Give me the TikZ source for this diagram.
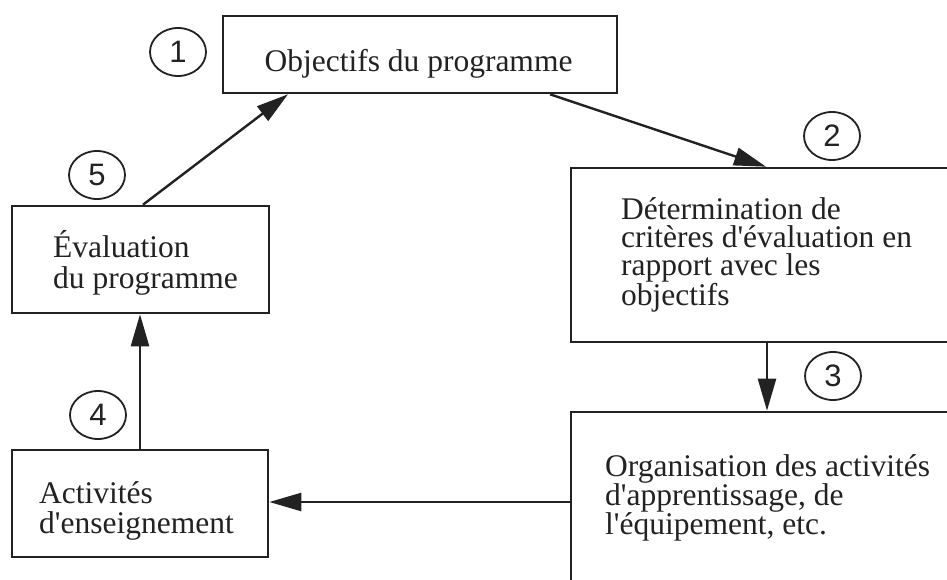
\documentclass[tikz,border=0pt]{standalone}
\usepackage{fontspec}
\setmainfont{Liberation Serif}
\newfontfamily\digitfont{Liberation Sans}
\usetikzlibrary{arrows.meta,shapes.geometric}
\definecolor{ink}{HTML}{222222}
\newcommand\apos{\textquotesingle}
\begin{document}
\begin{tikzpicture}[x=1pt,y=-1pt,
  stepbox/.style={draw=ink, line width=2.6pt, rectangle, inner sep=0pt},
  txt/.style={font=\fontsize{31.5}{29}\selectfont, text=ink, align=left, inner sep=0pt, anchor=base west},
  num/.style={draw=ink, line width=1.8pt, ellipse, minimum width=56pt, minimum height=48pt,
    inner sep=0pt, text=ink, font=\digitfont\fontsize{31}{31}\selectfont},
  flow/.style={draw=ink, line width=2.4pt, -{Triangle[length=32pt,width=18pt]}}]
  \useasboundingbox (0,0) rectangle (947,580);
  \fill[white] (0,0) rectangle (947,580);
  \clip (0,0) rectangle (947,580);

  % boxes
  \node[stepbox, minimum width=394pt, minimum height=77pt]  (obj) at (420,54.5) {};
  \node[stepbox, minimum width=399pt, minimum height=174pt] (det) at (770.5,255) {};
  \node[stepbox, minimum width=399pt, minimum height=198pt] (org) at (770.5,511) {};
  \node[stepbox, minimum width=256pt, minimum height=107pt] (act) at (140,503.5) {};
  \node[stepbox, minimum width=257pt, minimum height=107pt] (eva) at (140.5,259.5) {};

  % box texts (multi-line nodes sit on the baseline of their last line)
  \node[txt, anchor=base] (tobj) at (418.5,72) {Objectifs du programme};
  \node[txt, font=\fontsize{31.5}{28}\selectfont] (tdet) at (621,305) {Détermination de\\critères d\apos évaluation en\\rapport avec les\\objectifs};
  \node[txt] (torg) at (605,534) {Organisation des activités\\d\apos apprentissage, de\\l\apos équipement, etc.};
  \node[txt, font=\fontsize{31.5}{30}\selectfont] (tact) at (39,533) {Activités\\d\apos enseignement};
  \node[txt, font=\fontsize{31.5}{31}\selectfont] (teva) at (53,288) {Évaluation\\du programme};

  % step numbers
  \node[num] (n1) at (178,52)  {1};
  \node[num] (n2) at (832,136) {2};
  \node[num] (n3) at (833,376) {3};
  \node[num] (n4) at (98,415)  {4};
  \node[num] (n5) at (97,175)  {5};

  % cycle arrows
  \draw[flow] ([xshift=130pt]obj.south) -- ([xshift=-4.5pt]det.north);
  \draw[flow] ([xshift=-3.5pt]det.south) -- ([xshift=-3.5pt]org.north);
  \draw[flow] ([yshift=9pt]org.west) -- ([yshift=9pt]org.west -| act.east);
  \draw[flow] (act.north) -- (act.north |- eva.south);
  \draw[flow] ([xshift=2.5pt]eva.north) -- ([xshift=-132pt]obj.south);
\end{tikzpicture}
\end{document}
